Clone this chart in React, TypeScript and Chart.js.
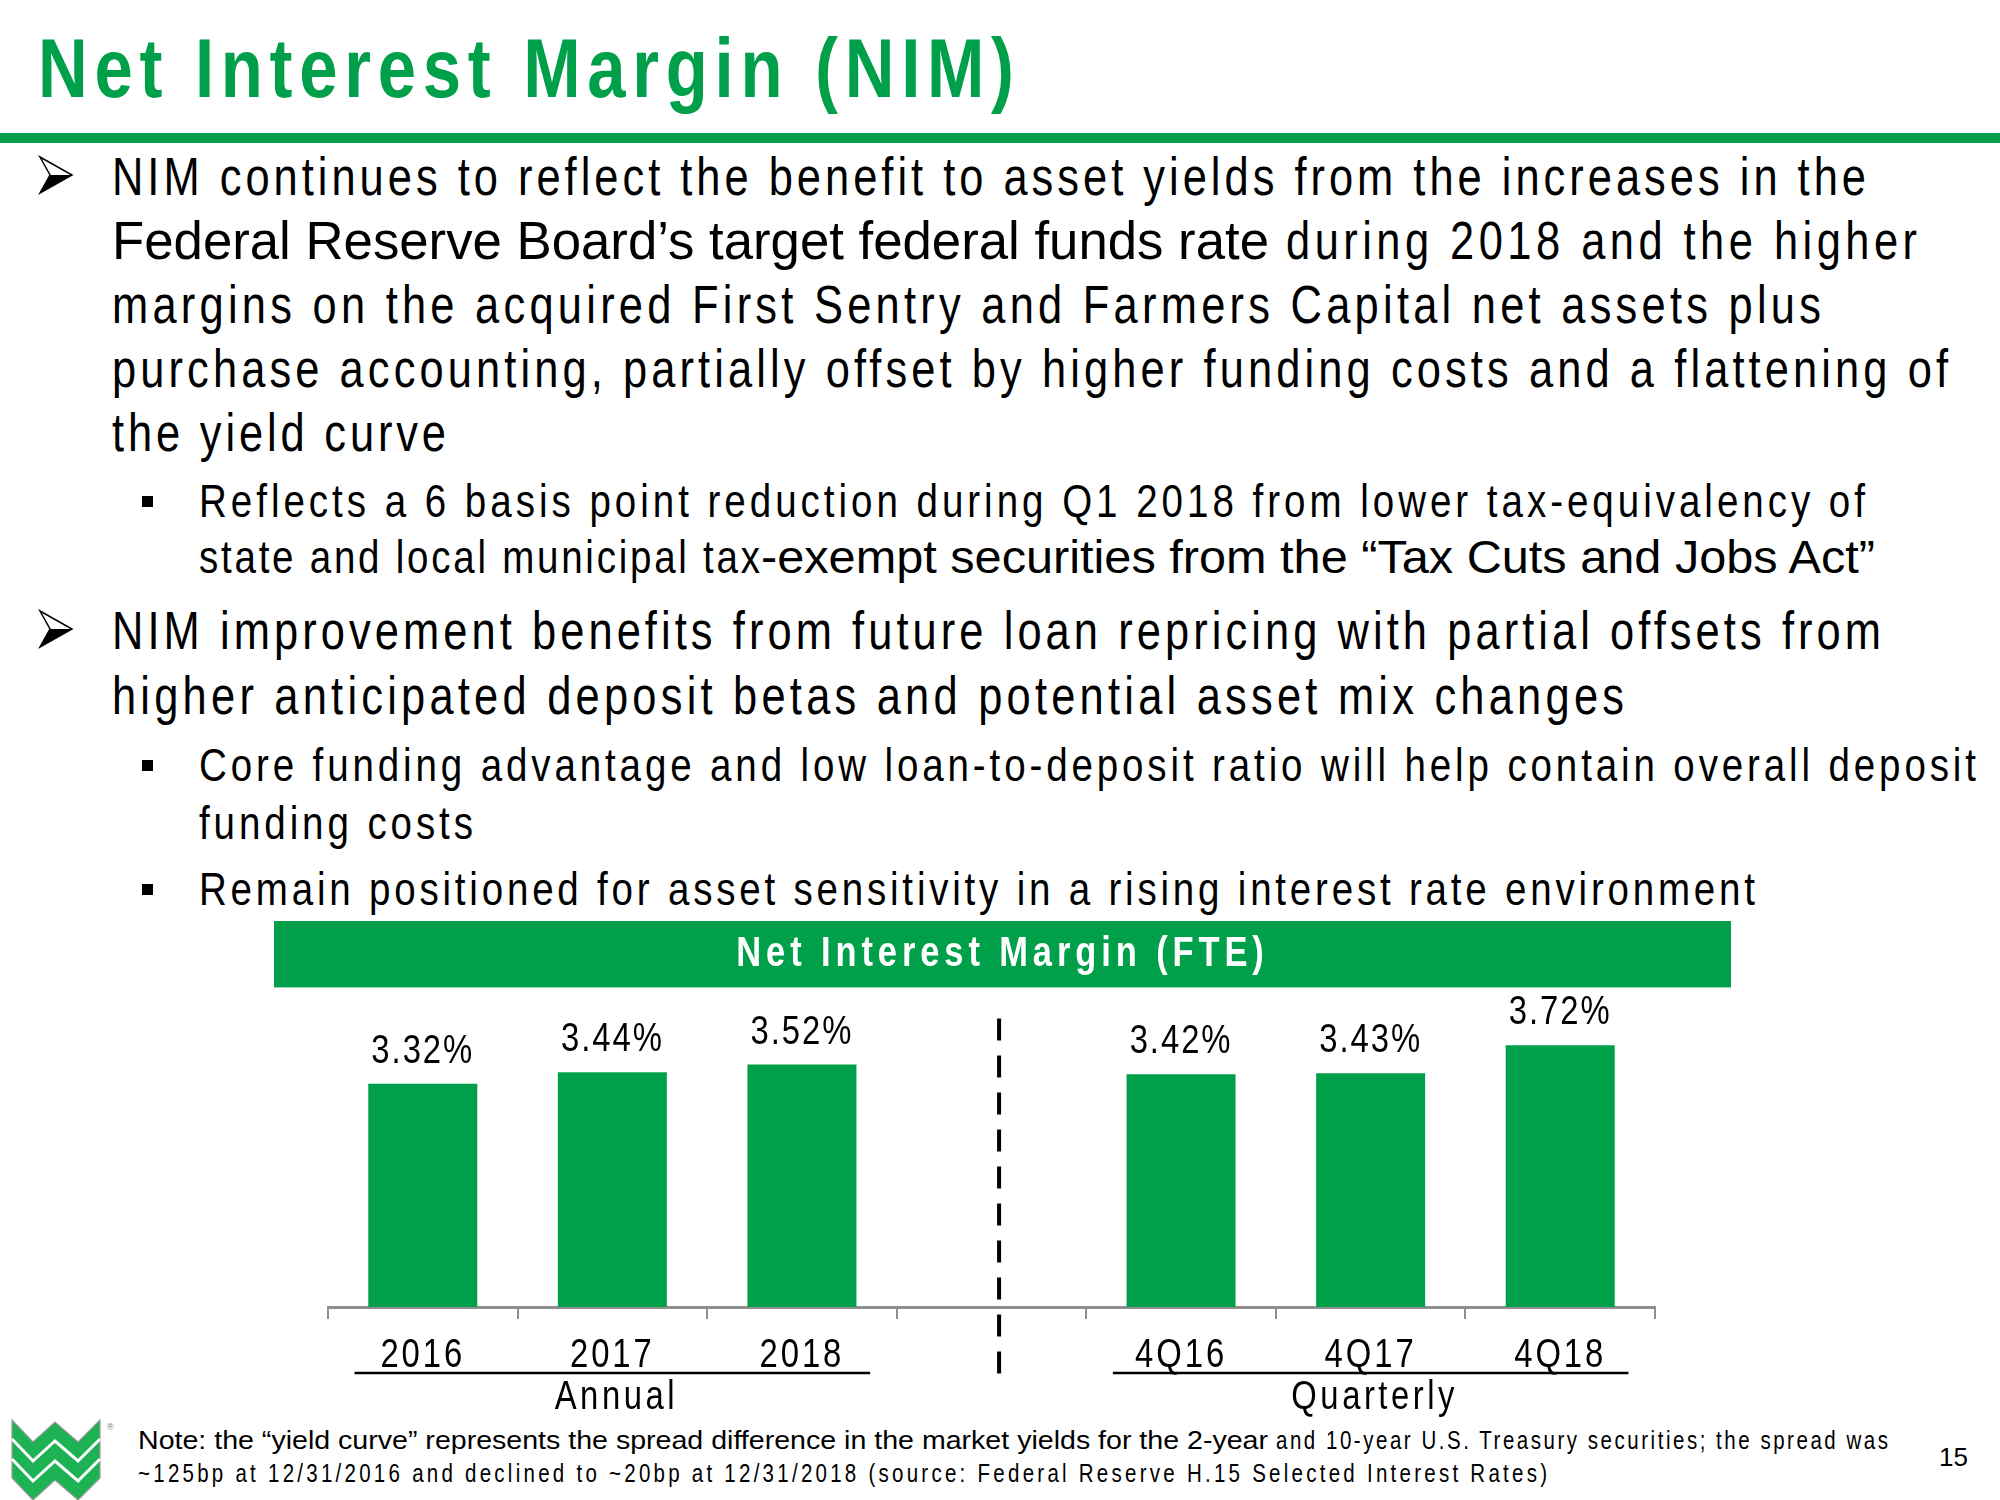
import React, { useEffect, useRef } from "react";
import { Chart, registerables } from "chart.js";

Chart.register(...registerables);

// ---- chart data ----
const categories = ["2016", "2017", "2018", "", "4Q16", "4Q17", "4Q18"];
const nimValues: (number | null)[] = [3.32, 3.44, 3.52, null, 3.42, 3.43, 3.72];
const groupNames = ["Annual", "Quarterly"];
const groupStarts = [0, 4];
const groupEnds = [2, 6];
const dividerIndex = 3;
const chartTitle = "Net Interest Margin (FTE)";
const yMin = 1;
const yMax = 4;

const GREEN = "#00A04B";
const SANS = '"Liberation Sans", Arial, sans-serif';
const SQUEEZE = 0.82; // horizontal glyph scale to imitate a narrow face

type TextSpec = { t: string; x: number; y: number; w: number; s: number; f: "n" | "w" };

const slideLines: TextSpec[] = [
  { t: "NIM continues to reflect the benefit to asset yields from the increases in the", x: 112, y: 195, w: 1754, s: 53, f: "n" },
  { t: "Federal Reserve Board\u2019s target federal funds rate", x: 112, y: 259, w: 1157, s: 53, f: "w" },
  { t: "during 2018 and the higher", x: 1286, y: 259, w: 631, s: 53, f: "n" },
  { t: "margins on the acquired First Sentry and Farmers Capital net assets plus", x: 112, y: 323, w: 1709, s: 53, f: "n" },
  { t: "purchase accounting, partially offset by higher funding costs and a flattening of", x: 112, y: 387, w: 1836, s: 53, f: "n" },
  { t: "the yield curve", x: 112, y: 451, w: 334, s: 53, f: "n" },
  { t: "Reflects a 6 basis point reduction during Q1 2018 from lower tax-equivalency of", x: 199, y: 517, w: 1666, s: 47, f: "n" },
  { t: "state and local municipal tax", x: 199, y: 573, w: 561, s: 47, f: "n" },
  { t: "-exempt securities from the \u201CTax Cuts and Jobs Act\u201D", x: 761, y: 573, w: 1114, s: 47, f: "w" },
  { t: "NIM improvement benefits from future loan repricing with partial offsets from", x: 112, y: 649, w: 1769, s: 53, f: "n" },
  { t: "higher anticipated deposit betas and potential asset mix changes", x: 112, y: 714, w: 1512, s: 53, f: "n" },
  { t: "Core funding advantage and low loan-to-deposit ratio will help contain overall deposit", x: 199, y: 781, w: 1777, s: 47, f: "n" },
  { t: "funding costs", x: 199, y: 839, w: 274, s: 47, f: "n" },
  { t: "Remain positioned for asset sensitivity in a rising interest rate environment", x: 199, y: 905, w: 1556, s: 47, f: "n" },
  { t: "Note: the \u201Cyield curve\u201D represents the spread difference in the market yields for the 2-year", x: 138, y: 1449, w: 1130, s: 25, f: "w" },
  { t: "and 10-year U.S. Treasury securities; the spread was", x: 1276, y: 1449, w: 612, s: 25, f: "n" },
  { t: "~125bp at 12/31/2016 and declined to ~20bp at 12/31/2018 (source: Federal Reserve H.15 Selected Interest Rates)", x: 138, y: 1482, w: 1409, s: 25, f: "n" },
];

const arrowTops = [157, 611];
const squareTops = [496, 760, 884];

// ---- plugins ----
const narrowText = {
  id: "narrowText",
  beforeDraw(chart: any) {
    const ctx = chart.ctx;
    if (!ctx.__narrowPatched) {
      const orig = ctx.fillText.bind(ctx);
      ctx.fillText = (text: string, x: number, y: number, maxWidth?: number) => {
        ctx.save();
        ctx.translate(x, y);
        ctx.scale(SQUEEZE, 1);
        if (maxWidth !== undefined && maxWidth !== null) orig(text, 0, 0, maxWidth / SQUEEZE);
        else orig(text, 0, 0);
        ctx.restore();
      };
      ctx.__narrowPatched = true;
    }
    // green band behind the title
    const tb = chart.titleBlock;
    if (tb) {
      ctx.save();
      ctx.fillStyle = GREEN;
      ctx.fillRect(0, tb.top, chart.width, 8 + 42 * 1.2 + 8);
      ctx.restore();
    }
    ctx.letterSpacing = "3.6px";
  },
  afterLayout(chart: any) {
    const tb = chart.titleBlock;
    if (tb && !tb.__wrapped) {
      const orig = tb.draw;
      tb.draw = function (...args: any[]) {
        const c = this.ctx;
        c.save();
        c.letterSpacing = "6px";
        // centre the title on the whole green band rather than on the plot area
        c.translate(chart.width / 2 - (this.left + this.right) / 2, 0);
        orig.apply(this, args);
        c.restore();
      };
      tb.__wrapped = true;
    }
  },
};

const valueLabels = {
  id: "valueLabels",
  afterDatasetsDraw(chart: any) {
    const ctx = chart.ctx;
    const meta = chart.getDatasetMeta(0);
    ctx.save();
    ctx.font = `40px ${SANS}`;
    ctx.fillStyle = "#000";
    ctx.textAlign = "center";
    ctx.textBaseline = "alphabetic";
    ctx.letterSpacing = "2.4px";
    meta.data.forEach((el: any, i: number) => {
      const v = nimValues[i];
      if (v == null) return;
      ctx.fillText(v.toFixed(2) + "%", el.x, el.y - 21);
    });
    ctx.restore();
  },
};

const dividerAndGroups = {
  id: "dividerAndGroups",
  afterDraw(chart: any) {
    const ctx = chart.ctx;
    const xs = chart.scales.x;
    const { top, bottom } = chart.chartArea;
    const slot = xs.getPixelForValue(1) - xs.getPixelForValue(0);
    const dx = xs.getPixelForValue(dividerIndex) + slot * 0.04;
    ctx.save();
    ctx.letterSpacing = "0px";
    ctx.strokeStyle = "#000";
    ctx.lineWidth = 4;
    ctx.setLineDash([22, 15]);
    ctx.beginPath();
    ctx.moveTo(dx, top);
    ctx.lineTo(dx, bottom + 79);
    ctx.stroke();
    ctx.setLineDash([]);
    ctx.lineWidth = 2.5;
    groupNames.forEach((g, k) => {
      const x0 = xs.getPixelForValue(groupStarts[k]) - slot * 0.36;
      const x1 = xs.getPixelForValue(groupEnds[k]) + slot * 0.36;
      ctx.beginPath();
      ctx.moveTo(x0, bottom + 66);
      ctx.lineTo(x1, bottom + 66);
      ctx.stroke();
      ctx.font = `40px ${SANS}`;
      ctx.fillStyle = "#000";
      ctx.textAlign = "center";
      ctx.textBaseline = "alphabetic";
      ctx.letterSpacing = "4.3px";
      ctx.fillText(g, (x0 + x1) / 2 + 4, bottom + 102);
    });
    ctx.restore();
  },
};

function NimChart() {
  const ref = useRef<HTMLCanvasElement | null>(null);
  useEffect(() => {
    if (!ref.current) return;
    const chart = new Chart(ref.current, {
      type: "bar",
      data: {
        labels: categories,
        datasets: [
          {
            data: nimValues as any,
            backgroundColor: GREEN,
            borderWidth: 0,
            barPercentage: 0.575,
            categoryPercentage: 1,
          },
        ],
      },
      options: {
        animation: false,
        responsive: false,
        events: [],
        layout: { padding: { left: 54, right: 76, top: 0, bottom: 37 } },
        plugins: {
          legend: { display: false },
          tooltip: { enabled: false },
          title: {
            display: true,
            text: chartTitle,
            color: "#ffffff",
            font: { family: SANS, size: 42, weight: "bold", lineHeight: 1.2 },
            padding: { top: 8, bottom: 39 },
          },
        },
        scales: {
          x: {
            grid: {
              display: true,
              drawOnChartArea: false,
              drawTicks: true,
              tickLength: 12,
              color: "#8f8f8f",
              lineWidth: 2,
              offset: true,
            },
            border: { display: true, color: "#8f8f8f", width: 3 },
            ticks: {
              color: "#000",
              font: { family: SANS, size: 40 },
              padding: 13,
              autoSkip: false,
              maxRotation: 0,
            },
          },
          y: { display: false, min: yMin, max: yMax },
        },
      } as any,
      plugins: [narrowText, valueLabels, dividerAndGroups],
    });
    return () => chart.destroy();
  }, []);
  return <canvas ref={ref} width={1457} height={509} />;
}

function Arrow({ top }: { top: number }) {
  const x = 40;
  return (
    <g>
      <path d={`M${x},${top} L${x + 32},${top + 18} L${x},${top + 36} L${x + 10},${top + 18} Z`} fill="#fff" stroke="#000" strokeWidth={1.5} />
      <path d={`M${x + 10},${top + 18} L${x + 32},${top + 18} L${x},${top + 36} Z`} fill="#000" />
    </g>
  );
}

function Logo() {
  const xs = [12, 33, 55, 78, 100];
  const topY = [1420, 1442, 1422, 1442, 1420];
  const thick = 58;
  const pts = (off: number) => xs.map((x, i) => `${x},${topY[i] + off}`).join(" ");
  const outline =
    xs.map((x, i) => `${x},${topY[i]}`).join(" ") +
    " " +
    xs
      .slice()
      .reverse()
      .map((x, i) => `${x},${topY[xs.length - 1 - i] + thick}`)
      .join(" ");
  return (
    <g>
      <polygon points={outline} fill="#1DB254" stroke="#9a9a9a" strokeWidth={1.2} />
      <polyline points={pts(19)} fill="none" stroke="#fff" strokeWidth={3} />
      <polyline points={pts(39)} fill="none" stroke="#fff" strokeWidth={3} />
      <text x={107} y={1430} fontSize={9} fill="#777" fontFamily={SANS}>®</text>
    </g>
  );
}

function SlideText({ l }: { l: TextSpec }) {
  if (l.f === "w") {
    return (
      <text x={l.x} y={l.y} fontSize={l.s} fill="#000" fontFamily={SANS} textLength={l.w} lengthAdjust="spacingAndGlyphs">
        {l.t}
      </text>
    );
  }
  return (
    <text
      transform={`translate(${l.x},${l.y}) scale(${SQUEEZE},1)`}
      x={0}
      y={0}
      fontSize={l.s}
      fill="#000"
      fontFamily={SANS}
      textLength={l.w / SQUEEZE}
      lengthAdjust="spacing"
    >
      {l.t}
    </text>
  );
}

export default function App() {
  return (
    <div style={{ position: "absolute", left: 0, top: 0, width: 2000, height: 1500, background: "#fff", overflow: "hidden" }}>
      <svg width={2000} height={1500} style={{ position: "absolute", left: 0, top: 0 }}>
        <text
          transform={`translate(38,97) scale(${SQUEEZE},1)`}
          x={0}
          y={0}
          fontSize={84}
          fontWeight="bold"
          fill={GREEN}
          fontFamily={SANS}
          textLength={976 / SQUEEZE}
          lengthAdjust="spacing"
        >
          Net Interest Margin (NIM)
        </text>
        <rect x={0} y={133} width={2000} height={10} fill={GREEN} />
        {arrowTops.map((t) => (
          <Arrow key={t} top={t} />
        ))}
        {squareTops.map((t) => (
          <rect key={t} x={142} y={t} width={11} height={11} fill="#000" />
        ))}
        {slideLines.map((l, i) => (
          <SlideText key={i} l={l} />
        ))}
        <text x={1939} y={1466} fontSize={26} fill="#000" fontFamily={SANS}>15</text>
        <Logo />
      </svg>
      <div style={{ position: "absolute", left: 274, top: 921, width: 1457, height: 509 }}>
        <NimChart />
      </div>
    </div>
  );
}
